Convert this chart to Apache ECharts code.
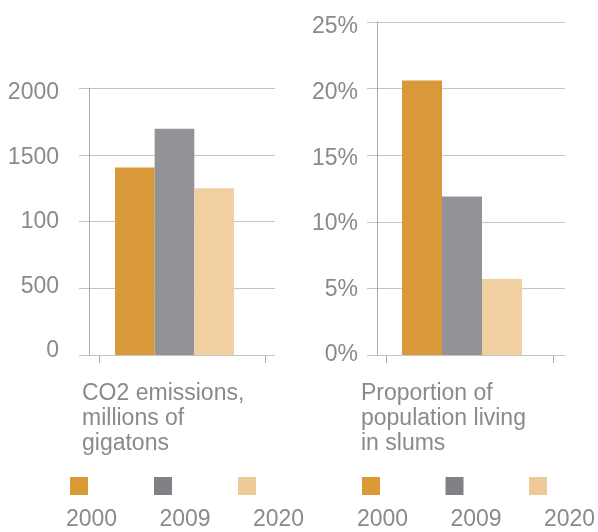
<!DOCTYPE html>
<html>
<head>
<meta charset="utf-8">
<script src="https://cdn.jsdelivr.net/npm/echarts@6/dist/echarts.min.js"></script>
<style>
  html, body { margin: 0; padding: 0; background: #ffffff; }
  #chart { width: 598px; height: 532px; }
</style>
</head>
<body>
<div id="chart"></div>
<script>
// ---- data ----
const years = ['2000', '2009', '2020'];
const co2Values = [1405, 1695, 1250];
const slumValues = [20.6, 11.9, 5.7];
const co2TickLabels = ['0', '500', '100', '1500', '2000'];
const slumTickLabels = ['0%', '5%', '10%', '15%', '20%', '25%'];
const co2Title = 'CO2 emissions,\nmillions of\ngigatons';
const slumTitle = 'Proportion of\npopulation living\nin slums';

// ---- styling ----
const FONT = '"Liberation Sans", Arial, Helvetica, sans-serif';
const TEXT = '#8a8a8c';
const GRID_LINE = '#c4c4c4';
const AXIS_LINE = '#a9a9a9';
const barColors = ['#d99938', '#929397', '#f0cfa0'];
const keyColors = ['#da9a38', '#7f8184', '#eeca98'];

// Each panel uses four grids: frame (gridlines + y axis line), x ticks, bars, tick labels.
const panels = [
  {
    values: co2Values, ticks: co2TickLabels, max: 2000, step: 500, title: co2Title,
    frame: { left: 89, top: 88, width: 186, height: 267 },
    tickBox: { left: 99, width: 166 },
    barBox: { left: 115, width: 119 },
    labelBox: { top: 93, height: 258 }, labelMargin: 30,
    titlePos: { left: 82, top: 381 },
    keyX: 70, keyStep: 84, keyTextX: 66, keyTextStep: 93.5
  },
  {
    values: slumValues, ticks: slumTickLabels, max: 25, step: 5, title: slumTitle,
    frame: { left: 377, top: 22, width: 188, height: 333 },
    tickBox: { left: 386, width: 167 },
    barBox: { left: 402, width: 120 },
    labelBox: { top: 27, height: 328 }, labelMargin: 19,
    titlePos: { left: 361, top: 381 },
    keyX: 362, keyStep: 83.5, keyTextX: 357, keyTextStep: 93.5
  }
];

const grid = [], xAxis = [], yAxis = [], series = [], title = [], graphic = [];

panels.forEach(function (p) {
  const f = p.frame;
  const g0 = grid.length;
  grid.push({ left: f.left, top: f.top, width: f.width, height: f.height });
  grid.push({ left: p.tickBox.left, top: f.top, width: p.tickBox.width, height: f.height });
  grid.push({ left: p.barBox.left, top: f.top, width: p.barBox.width, height: f.height });
  grid.push({ left: f.left, top: p.labelBox.top, width: f.width, height: p.labelBox.height });

  // frame: gridlines, vertical axis line, short outward ticks
  xAxis.push({ gridIndex: g0, type: 'value', show: false, min: 0, max: 1 });
  yAxis.push({
    gridIndex: g0, type: 'value', min: 0, max: p.max, interval: p.step,
    axisLine: { show: true, lineStyle: { color: AXIS_LINE, width: 1 } },
    axisTick: { show: true, length: 10, lineStyle: { color: GRID_LINE, width: 1 } },
    axisLabel: { show: false },
    splitLine: { show: true, lineStyle: { color: GRID_LINE, width: 1 } }
  });

  // x ticks below the baseline
  xAxis.push({
    gridIndex: g0 + 1, type: 'value', min: 0, max: 1, interval: 1,
    axisLine: { show: false },
    axisTick: { show: true, length: 8, lineStyle: { color: AXIS_LINE, width: 1 } },
    axisLabel: { show: false }, splitLine: { show: false }
  });
  yAxis.push({ gridIndex: g0 + 1, type: 'value', show: false, min: 0, max: 1 });

  // bars
  xAxis.push({ gridIndex: g0 + 2, type: 'category', data: [''], show: false });
  yAxis.push({ gridIndex: g0 + 2, type: 'value', show: false, min: 0, max: p.max });
  years.forEach(function (yr, i) {
    series.push({
      type: 'bar', name: yr, xAxisIndex: g0 + 2, yAxisIndex: g0 + 2,
      data: [p.values[i]], barGap: '0%', barCategoryGap: '0%',
      itemStyle: { color: barColors[i] }, silent: true, animation: false
    });
  });

  // tick labels
  xAxis.push({ gridIndex: g0 + 3, type: 'value', show: false, min: 0, max: 1 });
  yAxis.push({
    gridIndex: g0 + 3, type: 'value', min: 0, max: p.max, interval: p.step,
    axisLine: { show: false }, axisTick: { show: false }, splitLine: { show: false },
    axisLabel: {
      margin: p.labelMargin, color: TEXT, fontSize: 23, fontFamily: FONT,
      formatter: function (v) { return p.ticks[Math.round(v / p.step)]; }
    }
  });

  title.push({
    text: p.title, left: p.titlePos.left, top: p.titlePos.top, padding: 0,
    textStyle: { color: TEXT, fontSize: 23, fontWeight: 'normal', fontFamily: FONT, lineHeight: 25 }
  });

  // colour key under each panel
  years.forEach(function (yr, i) {
    graphic.push({
      type: 'rect', left: p.keyX + i * p.keyStep, top: 477,
      shape: { width: 18, height: 18 }, style: { fill: keyColors[i] }, silent: true
    });
    graphic.push({
      type: 'text', left: p.keyTextX + i * p.keyTextStep, top: 508,
      style: { text: yr, fill: TEXT, fontSize: 23, fontFamily: FONT }, silent: true
    });
  });
});

const chart = echarts.init(document.getElementById('chart'), null, { renderer: 'canvas' });
chart.setOption({
  animation: false,
  backgroundColor: '#ffffff',
  title: title,
  grid: grid,
  xAxis: xAxis,
  yAxis: yAxis,
  series: series,
  graphic: graphic
});
</script>
</body>
</html>
